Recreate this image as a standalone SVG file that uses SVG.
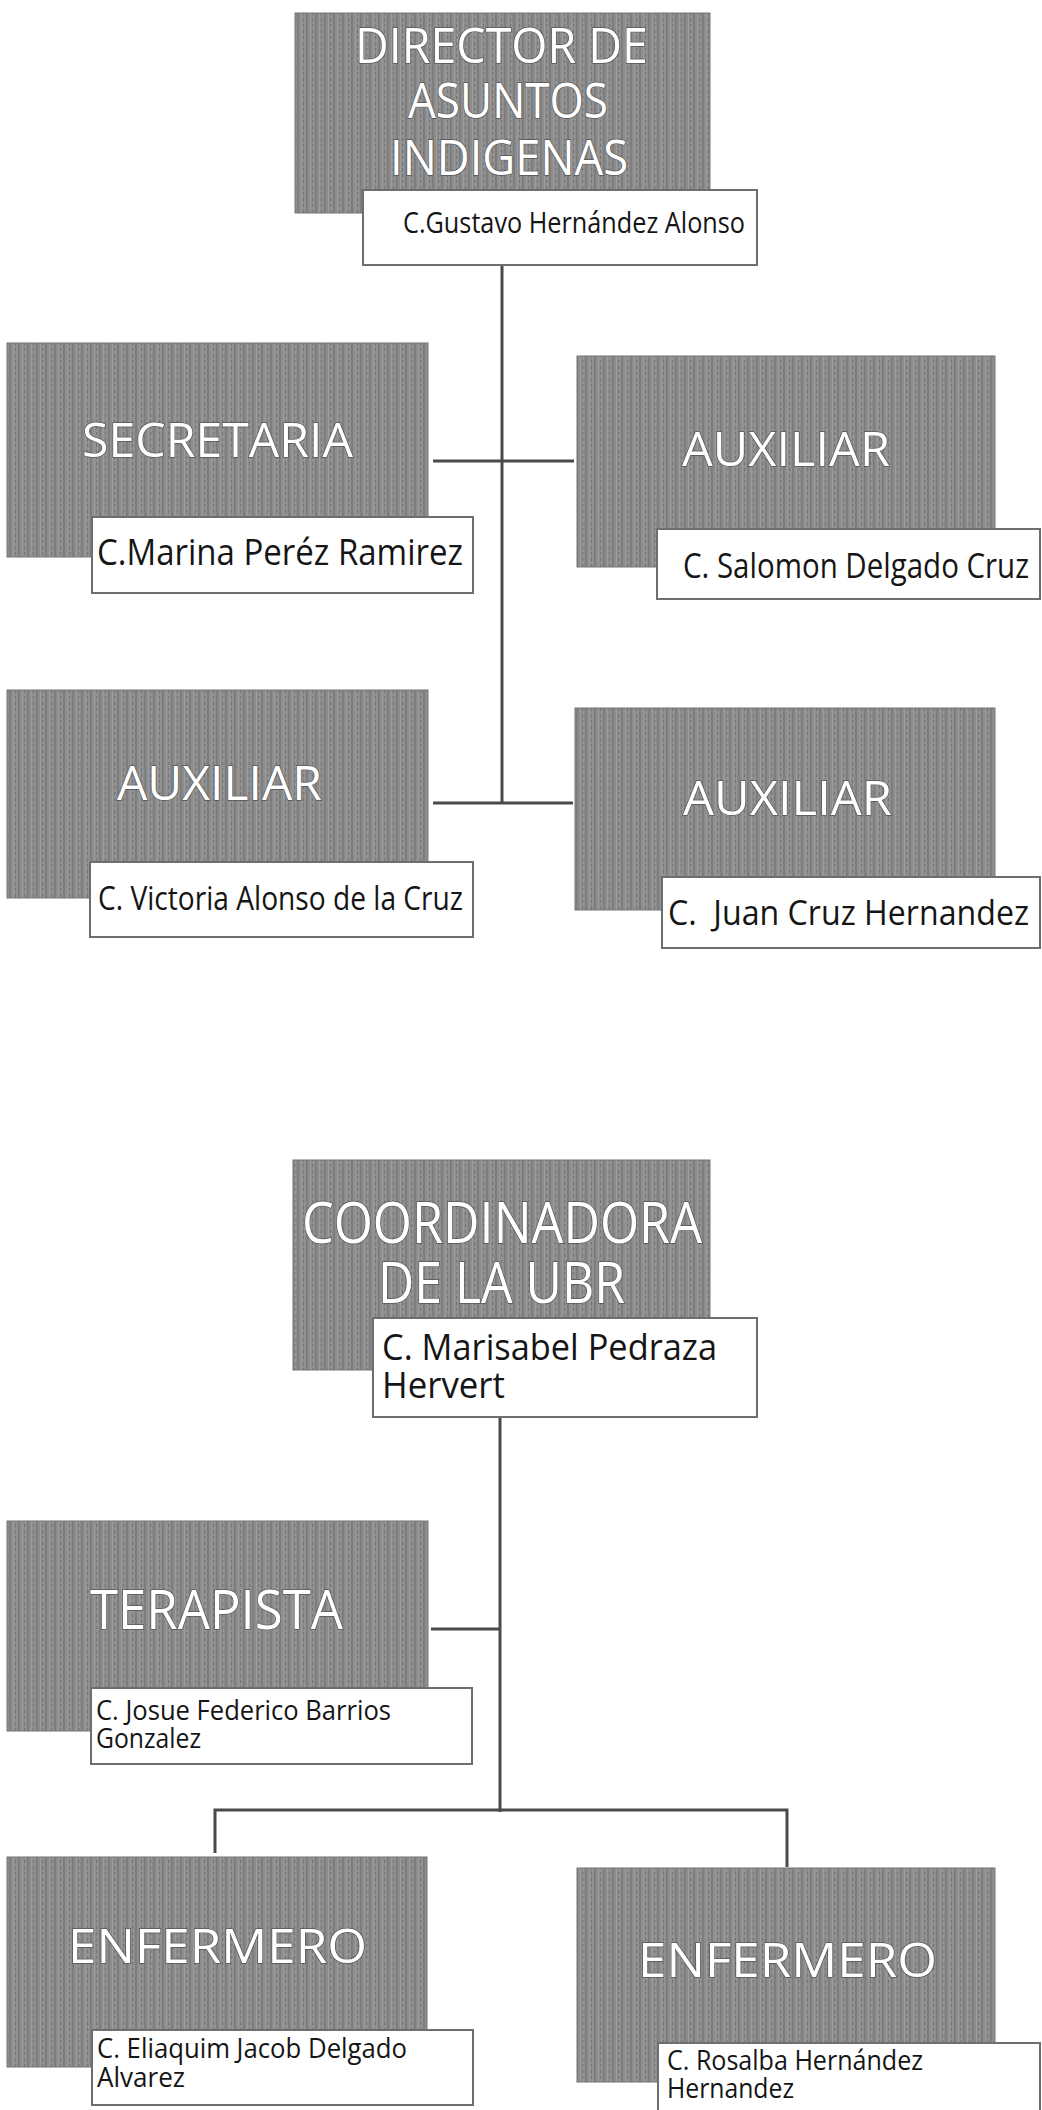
<svg xmlns="http://www.w3.org/2000/svg" width="1042" height="2110" viewBox="0 0 1042 2110">
<defs>
<pattern id="tex" width="9" height="6" patternUnits="userSpaceOnUse">
<rect width="9" height="6" fill="#8d8d8d"/>
<rect x="0" width="2" height="6" fill="#7e7e7e"/>
<rect x="4" width="1" height="6" fill="#9c9c9c"/>
<rect x="6" y="0" width="1" height="3" fill="#767676"/>
<rect x="7" y="3" width="1" height="3" fill="#979797"/>
</pattern>
</defs>
<style>
.g{fill:url(#tex);stroke:#747474;stroke-width:1}
.w{fill:#fff;stroke:#6e6e6e;stroke-width:2}
.t{font-family:"Open Sans","Liberation Sans",sans-serif;fill:#fff;stroke:#555;stroke-width:1.4;paint-order:stroke}
.n{font-family:"Open Sans","Liberation Sans",sans-serif;fill:#151515;font-weight:500}
.c{fill:none;stroke:#4a4a4a;stroke-width:3}
</style>
<rect width="1042" height="2110" fill="#fff"/>
<g id="connectors">
<line class="c" x1="502" y1="265" x2="502" y2="804"/>
<line class="c" x1="433" y1="461" x2="574" y2="461"/>
<line class="c" x1="433" y1="803" x2="573" y2="803"/>
<line class="c" x1="500" y1="1417" x2="500" y2="1812"/>
<line class="c" x1="431" y1="1629" x2="500" y2="1629"/>
<path class="c" d="M215,1853 V1810 H787 V1867"/>
</g>
<g id="director">
<rect class="g" x="295" y="13" width="415" height="200"/>
<text class="t" font-size="50" x="355" y="63" textLength="293" lengthAdjust="spacingAndGlyphs">DIRECTOR DE</text>
<text class="t" font-size="50" x="408" y="118" textLength="200" lengthAdjust="spacingAndGlyphs">ASUNTOS</text>
<text class="t" font-size="50" x="390" y="175" textLength="238" lengthAdjust="spacingAndGlyphs">INDIGENAS</text>
<rect class="w" x="363" y="190" width="394" height="75"/>
<text class="n" font-size="30" x="403" y="233" textLength="342" lengthAdjust="spacingAndGlyphs">C.Gustavo Hernández Alonso</text>
</g>
<g id="secretaria">
<rect class="g" x="7" y="343" width="421" height="214"/>
<text class="t" font-size="48" x="82" y="457" textLength="271" lengthAdjust="spacingAndGlyphs">SECRETARIA</text>
<rect class="w" x="92" y="517" width="381" height="76"/>
<text class="n" font-size="36" x="97" y="565" textLength="366" lengthAdjust="spacingAndGlyphs">C.Marina Peréz Ramirez</text>
</g>
<g id="auxiliar1">
<rect class="g" x="577" y="356" width="418" height="211"/>
<text class="t" font-size="48" x="682" y="466" textLength="208" lengthAdjust="spacingAndGlyphs">AUXILIAR</text>
<rect class="w" x="657" y="529" width="383" height="70"/>
<text class="n" font-size="34" x="683" y="578" textLength="346" lengthAdjust="spacingAndGlyphs">C. Salomon Delgado Cruz</text>
</g>
<g id="auxiliar2">
<rect class="g" x="7" y="690" width="421" height="208"/>
<text class="t" font-size="48" x="117" y="800" textLength="205" lengthAdjust="spacingAndGlyphs">AUXILIAR</text>
<rect class="w" x="90" y="862" width="383" height="75"/>
<text class="n" font-size="32" x="98" y="910" textLength="365" lengthAdjust="spacingAndGlyphs">C. Victoria Alonso de la Cruz</text>
</g>
<g id="auxiliar3">
<rect class="g" x="575" y="708" width="420" height="202"/>
<text class="t" font-size="48" x="683" y="815" textLength="209" lengthAdjust="spacingAndGlyphs">AUXILIAR</text>
<rect class="w" x="662" y="877" width="378" height="71"/>
<text class="n" font-size="34" x="668" y="925" textLength="361" lengthAdjust="spacingAndGlyphs" xml:space="preserve">C.  Juan Cruz Hernandez</text>
</g>
<g id="coordinadora">
<rect class="g" x="293" y="1160" width="417" height="210"/>
<text class="t" font-size="56" x="302" y="1243" textLength="400" lengthAdjust="spacingAndGlyphs">COORDINADORA</text>
<text class="t" font-size="56" x="378" y="1303" textLength="247" lengthAdjust="spacingAndGlyphs">DE LA UBR</text>
<rect class="w" x="373" y="1318" width="384" height="99"/>
<text class="n" font-size="36" x="382" y="1360" textLength="335" lengthAdjust="spacingAndGlyphs">C. Marisabel Pedraza</text>
<text class="n" font-size="36" x="382" y="1398" textLength="123" lengthAdjust="spacingAndGlyphs">Hervert</text>
</g>
<g id="terapista">
<rect class="g" x="7" y="1521" width="421" height="210"/>
<text class="t" font-size="54" x="90" y="1629" textLength="253" lengthAdjust="spacingAndGlyphs">TERAPISTA</text>
<rect class="w" x="91" y="1688" width="381" height="76"/>
<text class="n" font-size="28" x="96" y="1720" textLength="295" lengthAdjust="spacingAndGlyphs">C. Josue Federico Barrios</text>
<text class="n" font-size="28" x="96" y="1748" textLength="105" lengthAdjust="spacingAndGlyphs">Gonzalez</text>
</g>
<g id="enfermero1">
<rect class="g" x="7" y="1857" width="420" height="210"/>
<text class="t" font-size="48" x="68" y="1963" textLength="299" lengthAdjust="spacingAndGlyphs">ENFERMERO</text>
<rect class="w" x="92" y="2030" width="381" height="75"/>
<text class="n" font-size="28" x="97" y="2058" textLength="310" lengthAdjust="spacingAndGlyphs">C. Eliaquim Jacob Delgado</text>
<text class="n" font-size="28" x="97" y="2087" textLength="88" lengthAdjust="spacingAndGlyphs">Alvarez</text>
</g>
<g id="enfermero2">
<rect class="g" x="577" y="1868" width="418" height="214"/>
<text class="t" font-size="48" x="638" y="1977" textLength="299" lengthAdjust="spacingAndGlyphs">ENFERMERO</text>
<rect class="w" x="658" y="2043" width="382" height="75"/>
<text class="n" font-size="28" x="667" y="2070" textLength="256" lengthAdjust="spacingAndGlyphs">C. Rosalba Hernández</text>
<text class="n" font-size="28" x="667" y="2098" textLength="127" lengthAdjust="spacingAndGlyphs">Hernandez</text>
</g>
</svg>
